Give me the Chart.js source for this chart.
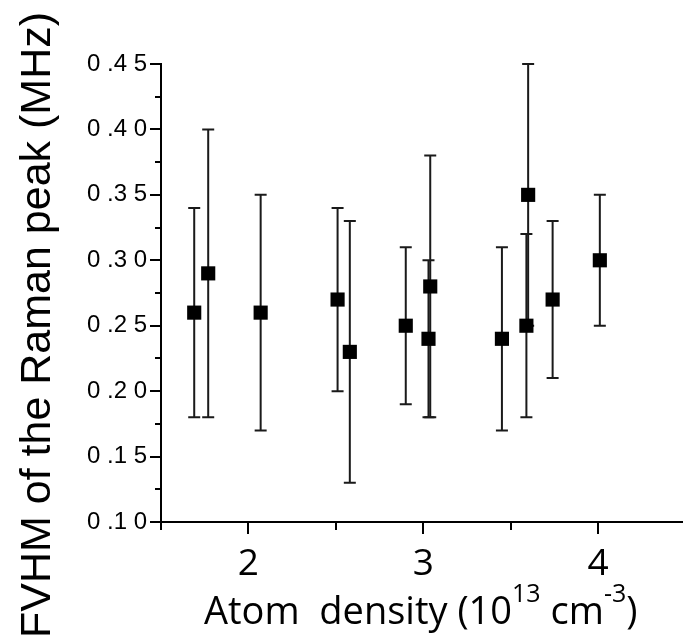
<!DOCTYPE html>
<html>
<head>
<meta charset="utf-8">
<script src="https://cdn.jsdelivr.net/npm/chart.js@4/dist/chart.umd.min.js"></script>
<style>
  html, body { margin: 0; padding: 0; background: #fff; overflow: hidden; }
  #wrap { width: 692px; height: 641px; }
</style>
</head>
<body>
<div id="wrap"><canvas id="c" width="692" height="641"></canvas></div>
<script>
// ---- data ----
const atomDensity = [1.69, 1.77, 2.07, 2.51, 2.58, 2.90, 3.04, 3.03, 3.45, 3.60, 3.59, 3.74, 4.01];
const fvhm        = [0.26, 0.29, 0.26, 0.27, 0.23, 0.25, 0.28, 0.24, 0.24, 0.35, 0.25, 0.27, 0.30];
const errUpper    = [0.34, 0.40, 0.35, 0.34, 0.33, 0.31, 0.38, 0.30, 0.31, 0.45, 0.32, 0.33, 0.35];
const errLower    = [0.18, 0.18, 0.17, 0.20, 0.13, 0.19, 0.18, 0.18, 0.17, 0.25, 0.18, 0.21, 0.25];

const xMajorTicks = [2, 3, 4];
const xMinorTicks = [1.5, 2.5, 3.5];
const yMajorTicks = [0.10, 0.15, 0.20, 0.25, 0.30, 0.35, 0.40, 0.45];
const yMinorTicks = [0.125, 0.175, 0.225, 0.275, 0.325, 0.375, 0.425];
const yTickLabels = ['0 .1 0', '0 .1 5', '0 .2 0', '0 .2 5', '0 .3 0', '0 .3 5', '0 .4 0', '0 .4 5'];
const xTickLabels = ['2', '3', '4'];

const yTitle = 'FVHM of the Raman peak (MHz)';
const xTitleParts = [
  { t: 'Atom  density (10', sup: false },
  { t: '13', sup: true },
  { t: ' cm', sup: false },
  { t: '-3', sup: true },
  { t: ')', sup: false }
];

const near = (a, b) => Math.abs(a - b) < 1e-6;

const errorBarPlugin = {
  id: 'errorBars',
  beforeDatasetsDraw(chart) {
    const { ctx, scales: { x, y } } = chart;
    ctx.save();
    ctx.strokeStyle = '#1a1a1a';
    ctx.lineWidth = 2;
    ctx.lineCap = 'butt';
    for (let i = 0; i < atomDensity.length; i++) {
      const px = x.getPixelForValue(atomDensity[i]);
      const pt = y.getPixelForValue(errUpper[i]);
      const pb = y.getPixelForValue(errLower[i]);
      ctx.beginPath();
      ctx.moveTo(px, pt); ctx.lineTo(px, pb);
      ctx.moveTo(px - 6, pt); ctx.lineTo(px + 6, pt);
      ctx.moveTo(px - 6, pb); ctx.lineTo(px + 6, pb);
      ctx.stroke();
    }
    ctx.restore();
  }
};

const axisDecorPlugin = {
  id: 'axisDecor',
  afterDraw(chart) {
    const { ctx, scales: { x, y }, chartArea } = chart;
    ctx.save();
    ctx.strokeStyle = '#000';
    ctx.lineWidth = 2;
    ctx.beginPath();
    // y ticks (outward, left)
    yMajorTicks.forEach(v => { const py = Math.round(y.getPixelForValue(v)); ctx.moveTo(chartArea.left, py); ctx.lineTo(chartArea.left - 11, py); });
    yMinorTicks.forEach(v => { const py = Math.round(y.getPixelForValue(v)); ctx.moveTo(chartArea.left, py); ctx.lineTo(chartArea.left - 6, py); });
    // x ticks (outward, down)
    xMajorTicks.forEach(v => { const px = Math.round(x.getPixelForValue(v)); ctx.moveTo(px, chartArea.bottom); ctx.lineTo(px, chartArea.bottom + 12); });
    xMinorTicks.forEach(v => { const px = Math.round(x.getPixelForValue(v)); ctx.moveTo(px, chartArea.bottom); ctx.lineTo(px, chartArea.bottom + 8); });
    ctx.stroke();

    // y axis title (rotated)
    ctx.fillStyle = '#000';
    ctx.font = '43px "Liberation Sans", Arial, sans-serif';
    ctx.save();
    ctx.translate(50, 638);
    ctx.rotate(-Math.PI / 2);
    ctx.textAlign = 'left';
    ctx.textBaseline = 'alphabetic';
    ctx.fillText(yTitle, 0, 0);
    ctx.restore();

    // x axis title with superscripts
    let cx = 204;
    const base = 624;
    ctx.textAlign = 'left';
    ctx.textBaseline = 'alphabetic';
    xTitleParts.forEach(p => {
      ctx.font = (p.sup ? '25px' : '38px') + ' "Open Sans", sans-serif';
      const yy = p.sup ? base - 22 : base;
      ctx.fillText(p.t, cx, yy);
      cx += ctx.measureText(p.t).width;
    });
    ctx.restore();
  }
};

new Chart(document.getElementById('c'), {
  type: 'scatter',
  data: {
    datasets: [{
      data: atomDensity.map((v, i) => ({ x: v, y: fvhm[i] })),
      pointStyle: 'rect',
      pointRadius: 10,
      pointHoverRadius: 10,
      backgroundColor: '#000',
      borderColor: '#000',
      borderWidth: 0
    }]
  },
  options: {
    responsive: false,
    animation: false,
    devicePixelRatio: 1,
    events: [],
    layout: { padding: { top: 64, right: 0, left: 0, bottom: 0 } },
    plugins: { legend: { display: false }, tooltip: { enabled: false } },
    scales: {
      x: {
        type: 'linear',
        min: 1.5,
        max: 4.48,
        afterFit(scale) { scale.height = 119; },
        afterBuildTicks(scale) { scale.ticks = xMajorTicks.map(v => ({ value: v })); },
        border: { display: true, color: '#000', width: 2 },
        grid: { display: true, drawOnChartArea: false, drawTicks: true, tickLength: 12, tickColor: 'rgba(0,0,0,0)' },
        ticks: {
          autoSkip: false,
          maxRotation: 0,
          padding: 8,
          color: '#000',
          font: { family: '"Open Sans", sans-serif', size: 37 },
          callback: (v) => { const i = xMajorTicks.findIndex(t => near(t, v)); return i >= 0 ? xTickLabels[i] : ''; }
        },
        title: { display: false }
      },
      y: {
        type: 'linear',
        min: 0.10,
        max: 0.45,
        afterFit(scale) { scale.width = 161; },
        afterBuildTicks(scale) { scale.ticks = yMajorTicks.map(v => ({ value: v })); },
        border: { display: true, color: '#000', width: 2 },
        grid: { display: true, drawOnChartArea: false, drawTicks: true, tickLength: 11, tickColor: 'rgba(0,0,0,0)' },
        ticks: {
          autoSkip: false,
          padding: 3,
          color: '#000',
          font: { family: '"Liberation Sans", Arial, sans-serif', size: 24 },
          callback: (v) => { const i = yMajorTicks.findIndex(t => near(t, v)); return i >= 0 ? yTickLabels[i] : ''; }
        },
        title: { display: false }
      }
    }
  },
  plugins: [errorBarPlugin, axisDecorPlugin]
});
</script>
</body>
</html>
